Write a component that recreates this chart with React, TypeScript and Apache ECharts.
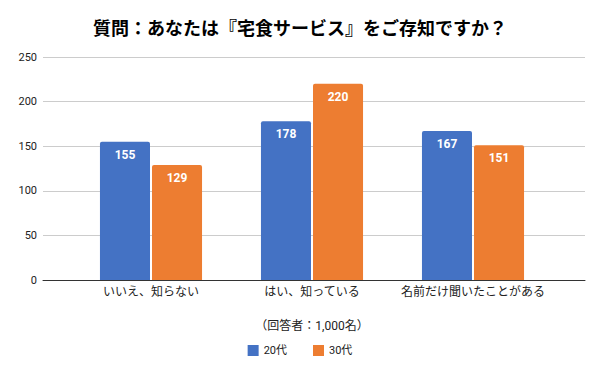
import React, { useEffect, useRef } from "react";
import * as echarts from "echarts";

const categories = ["いいえ、知らない", "はい、知っている", "名前だけ聞いたことがある"];
const series20 = [155, 178, 167];
const series30 = [129, 220, 151];
const seriesNames = ["20代", "30代"];
const yTicks = { min: 0, max: 250, interval: 50 };

const FONT = "Roboto, 'Noto Sans CJK JP', sans-serif";

export default function App() {
  const ref = useRef<HTMLDivElement>(null);
  useEffect(() => {
    if (!ref.current) return;
    const chart = echarts.init(ref.current, null, { renderer: "svg" });
    const gridPos = { top: 57, bottom: 91 };
    chart.setOption({
      animation: false,
      backgroundColor: "#ffffff",
      textStyle: { fontFamily: FONT },
      title: {
        text: "質問：あなたは『宅食サービス』をご存知ですか？",
        left: "center",
        top: 13,
        textStyle: {
          fontFamily: "'Noto Sans CJK JP', sans-serif",
          fontSize: 18,
          fontWeight: "bold",
          color: "#000000",
        },
      },
      legend: {
        data: seriesNames,
        top: 340,
        left: "center",
        itemWidth: 11,
        itemHeight: 11,
        itemGap: 26,
        icon: "rect",
        textStyle: { fontSize: 11, color: "#222222", fontFamily: FONT },
      },
      grid: [
        { left: 43, right: 15, ...gridPos },
        { left: 70.5, right: 46.5, ...gridPos },
      ],
      xAxis: [
        {
          gridIndex: 0,
          type: "category",
          data: [""],
          axisLabel: { show: false },
          axisTick: { show: false },
          axisLine: { show: true, lineStyle: { color: "#333333", width: 1 } },
          z: 5,
        },
        {
          gridIndex: 1,
          type: "category",
          data: categories,
          axisTick: { show: false },
          axisLine: { show: false },
          axisLabel: { interval: 0, fontSize: 12, color: "#222222", margin: 6, fontFamily: FONT },
          name: "（回答者：1,000名）",
          nameLocation: "middle",
          nameGap: 40,
          nameTextStyle: { fontSize: 12, color: "#222222", fontFamily: FONT },
        },
      ],
      yAxis: [
        {
          gridIndex: 0,
          type: "value",
          ...yTicks,
          axisLabel: { fontSize: 11, color: "#222222", margin: 6, fontFamily: FONT },
          axisLine: { show: false },
          axisTick: { show: false },
          splitLine: { lineStyle: { color: "#cccccc", width: 1 } },
        },
        {
          gridIndex: 1,
          type: "value",
          ...yTicks,
          show: false,
          splitLine: { show: false },
        },
      ],
      series: [
        {
          name: seriesNames[0],
          type: "bar",
          xAxisIndex: 1,
          yAxisIndex: 1,
          data: series20,
          barGap: "4%",
          barCategoryGap: "36.6%",
          itemStyle: { color: "#4472C4", borderRadius: [2, 2, 0, 0] },
          label: {
            show: true,
            position: "insideTop",
            distance: 7,
            color: "#ffffff",
            fontWeight: "bold",
            fontSize: 12,
            fontFamily: FONT,
          },
        },
        {
          name: seriesNames[1],
          type: "bar",
          xAxisIndex: 1,
          yAxisIndex: 1,
          data: series30,
          barGap: "4%",
          barCategoryGap: "36.6%",
          itemStyle: { color: "#ED7D31", borderRadius: [2, 2, 0, 0] },
          label: {
            show: true,
            position: "insideTop",
            distance: 7,
            color: "#ffffff",
            fontWeight: "bold",
            fontSize: 12,
            fontFamily: FONT,
          },
        },
      ],
    });
    return () => chart.dispose();
  }, []);
  return <div ref={ref} style={{ width: 600, height: 371, margin: -8 }} />;
}
